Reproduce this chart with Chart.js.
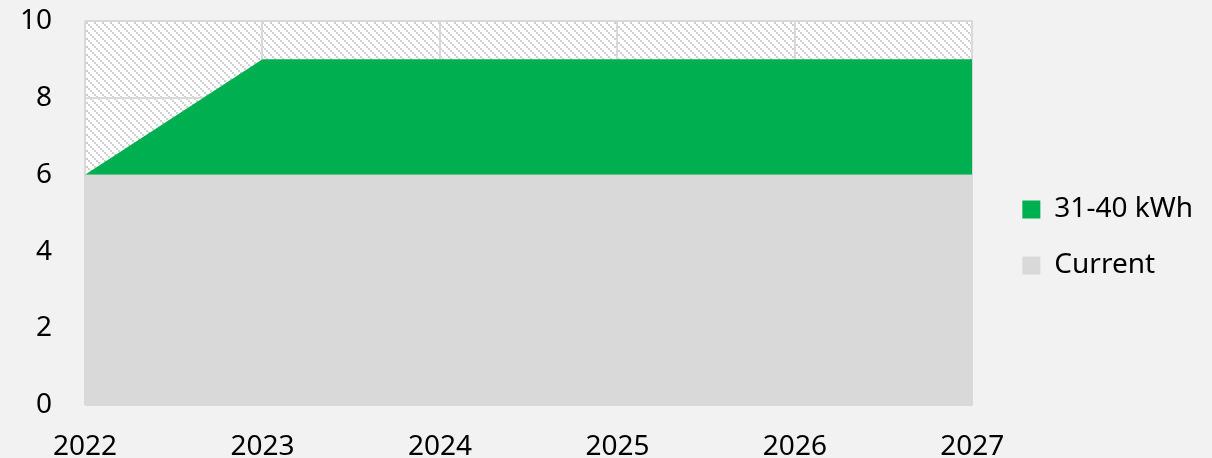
<!DOCTYPE html>
<html>
<head>
<meta charset="utf-8">
<script src="https://cdn.jsdelivr.net/npm/chart.js@4.4.1/dist/chart.umd.min.js"></script>
<style>
  html, body { margin: 0; padding: 0; background: #f2f2f2; overflow: hidden; }
  #wrap { width: 1212px; height: 489px; }
</style>
</head>
<body>
<div id="wrap"><canvas id="areaChart"></canvas></div>
<script>
// data block
const years = ['2022', '2023', '2024', '2025', '2026', '2027'];
const currentValues = [6, 6, 6, 6, 6, 6];
const kwh3140Values = [0, 3, 3, 3, 3, 3];
const yTicks = [0, 2, 4, 6, 8, 10];

// hatch pattern for the plot background
function makeHatch(ctx) {
    const c = document.createElement('canvas');
    c.width = 8;
    c.height = 8;
    const p = c.getContext('2d');
    p.fillStyle = '#ffffff';
    p.fillRect(0, 0, 8, 8);
    p.fillStyle = '#d0d0d0';
    for (let y = 0; y < 8; y++) {
        for (let x = 0; x < 8; x++) {
            if ((((x >> 1) - (y >> 1)) % 4 + 4) % 4 === 0) p.fillRect(x, y, 1, 1);
        }
    }
    return ctx.createPattern(c, 'repeat');
}

const plotBg = {
    id: 'plotBg',
    beforeDraw(chart) {
        const { ctx, chartArea: { left, top, width, height } } = chart;
        ctx.save();
        ctx.fillStyle = makeHatch(ctx);
        ctx.fillRect(left, top, width, height);
        ctx.restore();
    }
};

// move the legend block a bit away from the plot
const legendNudge = {
    id: 'legendNudge',
    afterLayout(chart) {
        const lg = chart.legend;
        lg.left += 22;
        lg.right += 22;
        lg.top -= 7;
        lg.bottom -= 7;
    }
};

const font = { family: '"Noto Sans"', size: 28 };

const chart = new Chart(document.getElementById('areaChart'), {
    type: 'line',
    data: {
        labels: years,
        datasets: [{
            label: 'Current',
            data: currentValues,
            backgroundColor: '#d9d9d9',
            borderWidth: 0,
            pointRadius: 0,
            fill: 'origin'
        }, {
            label: '31-40 kWh',
            data: kwh3140Values,
            backgroundColor: '#00b050',
            borderWidth: 0,
            pointRadius: 0,
            fill: '-1'
        }]
    },
    options: {
        responsive: true,
        maintainAspectRatio: false,
        animation: false,
        layout: { padding: { left: 16, right: 31, top: 0, bottom: 0 } },
        scales: {
            x: {
                offset: false,
                grid: { color: '#d9d9d9', lineWidth: 2, drawTicks: false },
                border: { display: false },
                ticks: { color: '#000', font: font, padding: 25, maxRotation: 0 }
            },
            y: {
                stacked: true,
                min: 0,
                max: 10,
                afterBuildTicks(axis) { axis.ticks = yTicks.map(v => ({ value: v })); },
                grid: { color: '#d9d9d9', lineWidth: 2, drawTicks: true, tickLength: 29, tickColor: 'transparent' },
                border: { display: false },
                ticks: { color: '#000', font: font, padding: 4 }
            }
        },
        plugins: {
            legend: {
                position: 'right',
                reverse: true,
                labels: {
                    color: '#000',
                    font: font,
                    boxWidth: 18,
                    boxHeight: 18,
                    padding: 28
                }
            },
            tooltip: { enabled: false }
        }
    },
    plugins: [plotBg, legendNudge]
});
</script>
</body>
</html>
